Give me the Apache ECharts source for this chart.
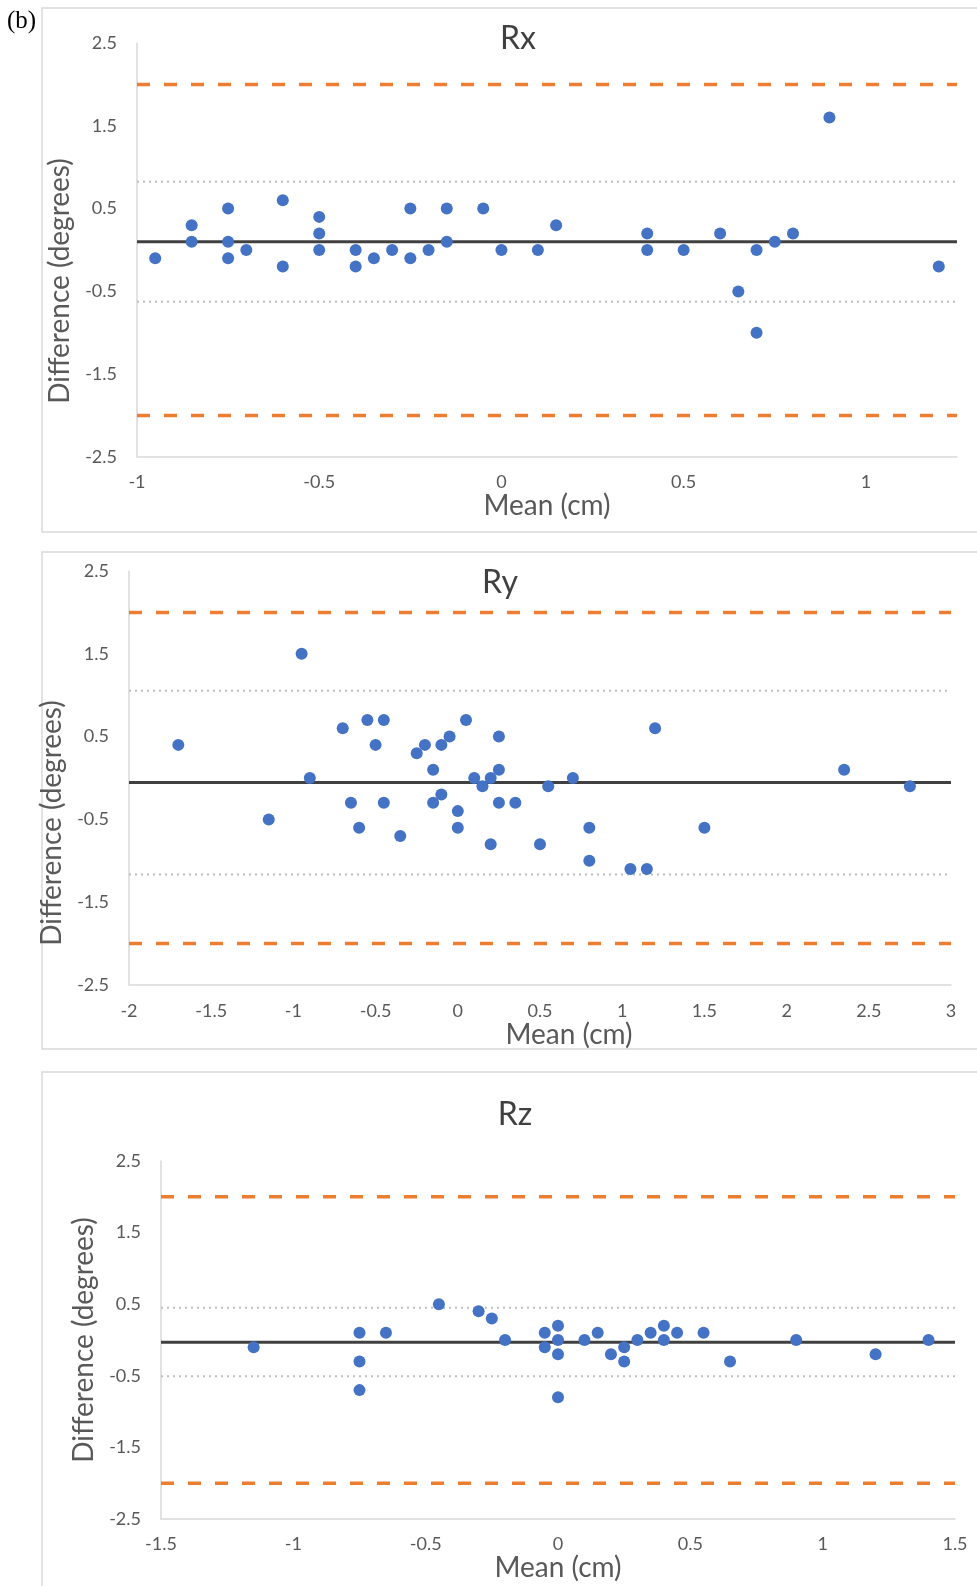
<!DOCTYPE html>
<html lang="en">
<head>
<meta charset="UTF-8">
<title>Bland-Altman Rx / Ry / Rz</title>
<script src="https://cdn.jsdelivr.net/npm/echarts/dist/echarts.min.js"></script>
<style>
    html, body { margin: 0; padding: 0; background: #fff; }
    #main { width: 977px; height: 1586px; }
</style>
</head>
<body>
<div id="main"></div>
<script>
    // Rx panel
    var rxMean = [-0.95, -0.85, -0.85, -0.75, -0.75, -0.75, -0.7, -0.6, -0.6, -0.5,
        -0.5, -0.5, -0.4, -0.4, -0.35, -0.3, -0.25, -0.25, -0.2, -0.15,
        -0.15, -0.05, 0, 0.1, 0.15, 0.4, 0.4, 0.5, 0.6, 0.65,
        0.7, 0.7, 0.75, 0.8, 0.9, 1.2];
    var rxDiff = [-0.1, 0.3, 0.1, 0.5, 0.1, -0.1, 0, 0.6, -0.2, 0.4,
        0.2, 0, 0, -0.2, -0.1, 0, 0.5, -0.1, 0, 0.5,
        0.1, 0.5, 0, 0, 0.3, 0.2, 0, 0, 0.2, -0.5,
        0, -1.0, 0.1, 0.2, 1.6, -0.2];
    // mean, upper LoA, lower LoA, upper limit, lower limit
    var rxLines = [0.1, 0.825, -0.625, 2, -2];

    // Ry panel
    var ryMean = [-1.7, -1.15, -0.95, -0.9, -0.7, -0.65, -0.6, -0.55, -0.5, -0.45,
        -0.45, -0.35, -0.25, -0.2, -0.15, -0.15, -0.1, -0.1, -0.05, 0,
        0, 0.05, 0.1, 0.15, 0.2, 0.2, 0.25, 0.25, 0.25, 0.35,
        0.5, 0.55, 0.7, 0.8, 0.8, 1.05, 1.15, 1.2, 1.5, 2.35,
        2.75];
    var ryDiff = [0.4, -0.5, 1.5, 0, 0.6, -0.3, -0.6, 0.7, 0.4, 0.7,
        -0.3, -0.7, 0.3, 0.4, 0.1, -0.3, 0.4, -0.2, 0.5, -0.4,
        -0.6, 0.7, 0, -0.1, 0, -0.8, 0.5, 0.1, -0.3, -0.3,
        -0.8, -0.1, 0, -0.6, -1.0, -1.1, -1.1, 0.6, -0.6, 0.1,
        -0.1];
    var ryLines = [-0.055, 1.055, -1.165, 2, -2];

    // Rz panel
    var rzMean = [-1.15, -0.75, -0.75, -0.75, -0.65, -0.45, -0.3, -0.25, -0.2, -0.05,
        -0.05, 0, 0, 0, 0, 0.1, 0.15, 0.2, 0.25, 0.25,
        0.3, 0.35, 0.4, 0.4, 0.45, 0.55, 0.65, 0.9, 1.2, 1.4];
    var rzDiff = [-0.1, 0.1, -0.3, -0.7, 0.1, 0.5, 0.4, 0.3, 0, 0.1,
        -0.1, 0.2, 0, -0.2, -0.8, 0, 0.1, -0.2, -0.1, -0.3,
        0, 0.1, 0.2, 0, 0.1, 0.1, -0.3, 0, -0.2, 0];
    var rzLines = [-0.03, 0.45, -0.505, 2, -2];

    var titles = ['Rx', 'Ry', 'Rz'];
    var xRanges = [[-1, 1.25], [-2, 3], [-1.5, 1.5]];
    var yRange = [-2.5, 2.5];

    var font = 'Lato';
    var textGrey = '#595959';
    var axisGrey = '#d9d9d9';

    // grid placement of each panel
    var grids = [
        {left: 137, top: 43, width: 820, height: 414},
        {left: 129, top: 571, width: 822, height: 414},
        {left: 161, top: 1161, width: 794, height: 358}
    ];
    var panels = [
        {mean: rxMean, diff: rxDiff, lines: rxLines, yGap: 55, yPad: [0, 62, 0, 0], xGap: 32, xPad: [0, 0, 0, 0], lblMargin: 17},
        {mean: ryMean, diff: ryDiff, lines: ryLines, yGap: 49, yPad: [0, 90, 0, 0], xGap: 29, xPad: [0, 0, 0, 58], lblMargin: 18},
        {mean: rzMean, diff: rzDiff, lines: rzLines, yGap: 59, yPad: [0, 0, 0, 0], xGap: 34, xPad: [0, 0, 0, 0], lblMargin: 17}
    ];

    var xAxes = [], yAxes = [], series = [];

    panels.forEach(function (p, i) {
        xAxes.push({
            gridIndex: i, type: 'value',
            min: xRanges[i][0], max: xRanges[i][1], interval: 0.5,
            name: 'Mean (cm)', nameLocation: 'middle', nameGap: p.xGap,
            nameTextStyle: {fontSize: 28, color: textGrey, fontFamily: font, padding: p.xPad},
            axisLine: {show: true, onZero: false, lineStyle: {color: axisGrey, width: 1.5}},
            axisTick: {show: false},
            splitLine: {show: false},
            axisLabel: {color: textGrey, fontSize: 18, fontFamily: font, margin: p.lblMargin - 1, showMaxLabel: i !== 0}
        });
        yAxes.push({
            gridIndex: i, type: 'value',
            min: yRange[0], max: yRange[1], interval: 1,
            name: 'Difference (degrees)', nameLocation: 'middle', nameRotate: 90, nameGap: p.yGap,
            nameTextStyle: {fontSize: 28, color: textGrey, fontFamily: font, padding: p.yPad},
            axisLine: {show: true, onZero: false, lineStyle: {color: axisGrey, width: 1.5}},
            axisTick: {show: false},
            splitLine: {show: false},
            axisLabel: {color: textGrey, fontSize: 18, fontFamily: font, margin: 20}
        });

        var x0 = xRanges[i][0], x1 = xRanges[i][1];
        var styles = [
            {color: '#404040', width: 3, type: 'solid'},
            {color: '#bfbfbf', width: 2, type: [2, 4]},
            {color: '#bfbfbf', width: 2, type: [2, 4]},
            {color: '#ED7D31', width: 3.5, type: [13, 14]},
            {color: '#ED7D31', width: 3.5, type: [13, 14]}
        ];
        p.lines.forEach(function (v, k) {
            series.push({
                type: 'line', xAxisIndex: i, yAxisIndex: i,
                data: [[x0, v], [x1, v]],
                symbol: 'none', silent: true, z: 1,
                lineStyle: styles[k]
            });
        });

        var pts = p.mean.map(function (m, k) { return [m, p.diff[k]]; });
        series.push({
            type: 'scatter', xAxisIndex: i, yAxisIndex: i,
            data: pts, symbolSize: 12, z: 3,
            itemStyle: {color: '#4472C4', opacity: 1}
        });
    });

    var myChart = echarts.init(document.getElementById('main'));
    myChart.setOption({
        animation: false,
        backgroundColor: '#fff',
        grid: grids,
        xAxis: xAxes,
        yAxis: yAxes,
        series: series,
        graphic: [
            {type: 'rect', shape: {x: 42, y: 8, width: 960, height: 524}, style: {fill: 'none', stroke: axisGrey, lineWidth: 1.5}, z: -1},
            {type: 'rect', shape: {x: 42, y: 552, width: 960, height: 497}, style: {fill: 'none', stroke: axisGrey, lineWidth: 1.5}, z: -1},
            {type: 'rect', shape: {x: 42, y: 1072, width: 960, height: 600}, style: {fill: 'none', stroke: axisGrey, lineWidth: 1.5}, z: -1},
            {type: 'text', x: 7, y: 21, style: {text: '(b)', fontSize: 25, fontFamily: 'Liberation Serif', fill: '#000', verticalAlign: 'middle'}},
            {type: 'text', x: 518, y: 39, style: {text: titles[0], fontSize: 32, fontFamily: font, fill: '#404040', align: 'center', verticalAlign: 'middle'}},
            {type: 'text', x: 500, y: 583, style: {text: titles[1], fontSize: 32, fontFamily: font, fill: '#404040', align: 'center', verticalAlign: 'middle'}},
            {type: 'text', x: 515, y: 1115, style: {text: titles[2], fontSize: 32, fontFamily: font, fill: '#404040', align: 'center', verticalAlign: 'middle'}}
        ]
    });
</script>
</body>
</html>
